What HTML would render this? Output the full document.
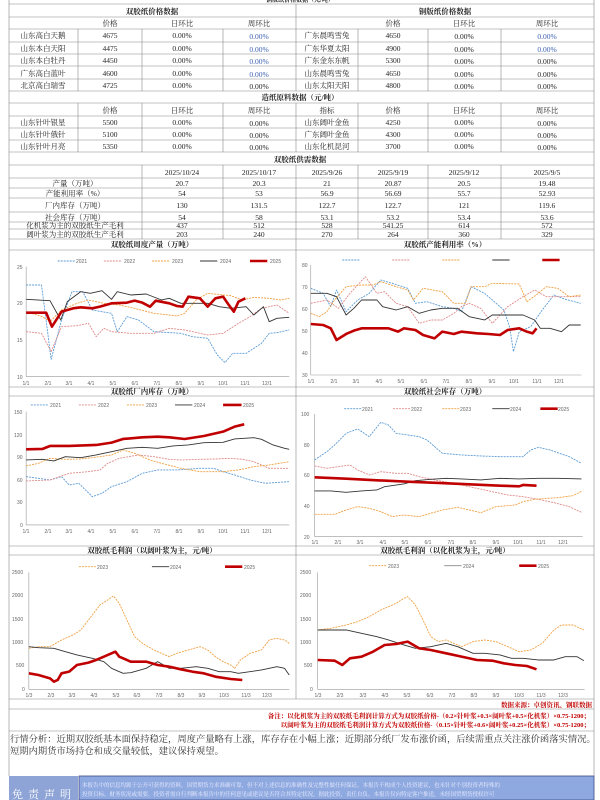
<!DOCTYPE html>
<html><head><meta charset="utf-8"><style>
html,body{margin:0;padding:0;background:#fff;}
svg{display:block;font-family:"Liberation Serif","Noto Serif CJK SC",serif;}
.t{font-size:7.5px;fill:#222;text-anchor:middle;}
.b{fill:#3a5fb0;}
.ax{font-size:5px;fill:#666;font-family:"Liberation Sans",sans-serif;}
.ct{font-size:7.5px;fill:#222;text-anchor:middle;font-weight:bold;}
.s{fill:none;vector-effect:non-scaling-stroke;stroke-linejoin:round;}
.y1{stroke:#5b9bd5;stroke-width:0.9;stroke-dasharray:2 1;}
.y2{stroke:#e08a8a;stroke-width:0.9;stroke-dasharray:2 1;}
.y3{stroke:#f0a040;stroke-width:0.9;stroke-dasharray:2 1;}
.y4{stroke:#333;stroke-width:0.9;}
.y5{stroke:#c00000;stroke-width:2.6;}
.g{stroke:#999;stroke-width:0.6;vector-effect:non-scaling-stroke;}
.l{stroke:#888;stroke-width:0.6;}
</style></head><body>
<svg width="600" height="800" viewBox="0 0 600 800" xmlns="http://www.w3.org/2000/svg">
<g class="l">
<line x1="9" y1="0" x2="9" y2="776"/><line x1="594" y1="0" x2="594" y2="776"/>
<line x1="9" y1="4" x2="594" y2="4"/><line x1="9" y1="17" x2="594" y2="17"/>
<line x1="9" y1="29" x2="594" y2="29"/><line x1="9" y1="42" x2="594" y2="42"/>
<line x1="9" y1="54" x2="594" y2="54"/><line x1="9" y1="66" x2="594" y2="66"/>
<line x1="9" y1="79" x2="594" y2="79"/><line x1="9" y1="91" x2="594" y2="91"/>
<line x1="9" y1="103" x2="594" y2="103"/><line x1="9" y1="116" x2="594" y2="116"/>
<line x1="9" y1="128" x2="594" y2="128"/><line x1="9" y1="140" x2="594" y2="140"/>
<line x1="9" y1="152" x2="594" y2="152"/><line x1="9" y1="165" x2="594" y2="165"/>
<line x1="9" y1="178" x2="594" y2="178"/><line x1="9" y1="188" x2="594" y2="188"/>
<line x1="9" y1="198" x2="594" y2="198"/><line x1="9" y1="212" x2="594" y2="212"/>
<line x1="9" y1="222" x2="594" y2="222"/><line x1="9" y1="229" x2="594" y2="229"/>
<line x1="9" y1="239" x2="594" y2="239"/><line x1="9" y1="250" x2="594" y2="250"/>
<line x1="9" y1="387" x2="594" y2="387"/><line x1="9" y1="396" x2="594" y2="396"/>
<line x1="9" y1="546" x2="594" y2="546"/><line x1="9" y1="555" x2="594" y2="555"/>
<line x1="9" y1="699" x2="594" y2="699"/><line x1="9" y1="709" x2="594" y2="709"/>
<line x1="9" y1="731" x2="594" y2="731"/>
<line x1="296" y1="4" x2="296" y2="91"/>
<line x1="78" y1="29" x2="78" y2="91"/><line x1="142" y1="29" x2="142" y2="91"/><line x1="223" y1="29" x2="223" y2="91"/>
<line x1="358" y1="29" x2="358" y2="91"/><line x1="428" y1="29" x2="428" y2="91"/><line x1="501" y1="29" x2="501" y2="91"/>
<line x1="78" y1="103" x2="78" y2="152"/><line x1="142" y1="103" x2="142" y2="152"/><line x1="223" y1="103" x2="223" y2="152"/><line x1="296" y1="103" x2="296" y2="152"/>
<line x1="358" y1="103" x2="358" y2="152"/><line x1="428" y1="103" x2="428" y2="152"/><line x1="501" y1="103" x2="501" y2="152"/>
<line x1="142" y1="165" x2="142" y2="239"/><line x1="223" y1="165" x2="223" y2="239"/><line x1="296" y1="165" x2="296" y2="699"/>
<line x1="358" y1="165" x2="358" y2="239"/><line x1="428" y1="165" x2="428" y2="239"/><line x1="501" y1="165" x2="501" y2="239"/>
</g>
<text class="ct" x="300" y="2" style="font-size:6px">铜版纸价格数据（元/吨）</text>
<text class="ct" x="152" y="14">双胶纸价格数据</text><text class="ct" x="445" y="14">铜版纸价格数据</text>
<g class="t">
<text x="110" y="26">价格</text><text x="182" y="26">日环比</text><text x="259" y="26">周环比</text>
<text x="393" y="26">价格</text><text x="464" y="26">日环比</text><text x="547" y="26">周环比</text>
<text x="43" y="38">山东高白天鹅</text><text x="110" y="38">4675</text><text x="182" y="38">0.00%</text><text class="t b" x="259" y="39">0.00%</text>
<text x="327" y="38">广东晨鸣雪兔</text><text x="393" y="38">4650</text><text x="464" y="39">0.00%</text><text class="t b" x="547" y="39">0.00%</text>
<text x="43" y="51">山东本白天阳</text><text x="110" y="51">4475</text><text x="182" y="51">0.00%</text><text class="t b" x="259" y="52">0.00%</text>
<text x="327" y="51">广东华夏太阳</text><text x="393" y="51">4900</text><text x="464" y="52">0.00%</text><text class="t b" x="547" y="52">0.00%</text>
<text x="43" y="63">山东本白牡丹</text><text x="110" y="63">4450</text><text x="182" y="63">0.00%</text><text class="t b" x="259" y="64">0.00%</text>
<text x="327" y="63">广东金东东帆</text><text x="393" y="63">5300</text><text x="464" y="64">0.00%</text><text x="547" y="64">0.00%</text>
<text x="43" y="76">广东高白蓝叶</text><text x="110" y="76">4600</text><text x="182" y="76">0.00%</text><text class="t b" x="259" y="77">0.00%</text>
<text x="327" y="76">山东晨鸣雪兔</text><text x="393" y="76">4650</text><text x="464" y="77">0.00%</text><text x="547" y="77">0.00%</text>
<text x="43" y="88">北京高白瑞雪</text><text x="110" y="88">4725</text><text x="182" y="88">0.00%</text><text x="259" y="89">0.00%</text>
<text x="327" y="88">山东太阳天阳</text><text x="393" y="88">4800</text><text x="464" y="89">0.00%</text><text x="547" y="89">0.00%</text>
<text class="ct" x="300" y="100">造纸原料数据（元/吨）</text>
<text x="110" y="113">价格</text><text x="182" y="113">日环比</text><text x="259" y="113">周环比</text>
<text x="327" y="113">指标</text><text x="393" y="113">价格</text><text x="464" y="113">日环比</text><text x="547" y="113">周环比</text>
<text x="43" y="125">山东针叶银星</text><text x="110" y="125">5500</text><text x="182" y="125">0.00%</text><text x="259" y="126">0.00%</text>
<text x="327" y="125">山东阔叶金鱼</text><text x="393" y="125">4250</text><text x="464" y="125">0.00%</text><text x="547" y="126">0.00%</text>
<text x="43" y="137">山东针叶俄针</text><text x="110" y="137">5100</text><text x="182" y="137">0.00%</text><text x="259" y="138">0.00%</text>
<text x="327" y="137">广东阔叶金鱼</text><text x="393" y="137">4300</text><text x="464" y="137">0.00%</text><text x="547" y="138">0.00%</text>
<text x="43" y="149">山东针叶月亮</text><text x="110" y="149">5350</text><text x="182" y="149">0.00%</text><text x="259" y="150">0.00%</text>
<text x="327" y="149">山东化机昆河</text><text x="393" y="149">3700</text><text x="464" y="149">0.00%</text><text x="547" y="150">0.00%</text>
<text class="ct" x="300" y="162">双胶纸供需数据</text>
<text x="182" y="175">2025/10/24</text><text x="259" y="175">2025/10/17</text><text x="327" y="175">2025/9/26</text><text x="393" y="175">2025/9/19</text><text x="464" y="175">2025/9/12</text><text x="547" y="175">2025/9/5</text>
<text x="75" y="186">产量（万吨）</text><text x="182" y="186">20.7</text><text x="259" y="186">20.3</text><text x="327" y="186">21</text><text x="393" y="186">20.87</text><text x="464" y="186">20.5</text><text x="547" y="186">19.48</text>
<text x="75" y="196">产能利用率（%）</text><text x="182" y="196">54</text><text x="259" y="196">53</text><text x="327" y="196">56.9</text><text x="393" y="196">56.69</text><text x="464" y="196">55.7</text><text x="547" y="196">52.93</text>
<text x="75" y="208">厂内库存（万吨）</text><text x="182" y="208">130</text><text x="259" y="208">131.5</text><text x="327" y="208">122.7</text><text x="393" y="208">122.7</text><text x="464" y="208">121</text><text x="547" y="208">119.6</text>
<text x="75" y="220">社会库存（万吨）</text><text x="182" y="220">54</text><text x="259" y="220">58</text><text x="327" y="220">53.1</text><text x="393" y="220">53.2</text><text x="464" y="220">53.4</text><text x="547" y="220">53.6</text>
<text x="75" y="228">化机浆为主的双胶纸生产毛利</text><text x="182" y="228">437</text><text x="259" y="228">512</text><text x="327" y="228">528</text><text x="393" y="228">541.25</text><text x="464" y="228">614</text><text x="547" y="228">572</text>
<text x="75" y="237">阔叶浆为主的双胶纸生产毛利</text><text x="182" y="237">203</text><text x="259" y="237">240</text><text x="327" y="237">270</text><text x="393" y="237">264</text><text x="464" y="237">360</text><text x="547" y="237">329</text>
</g>
<text class="ct" x="152" y="247">双胶纸周度产量（万吨）</text><text class="ct" x="445" y="247">双胶纸产能利用率（%）</text>
<text class="ct" x="152" y="394">双胶纸厂内库存（万吨）</text><text class="ct" x="445" y="394">双胶纸社会库存（万吨）</text>
<text class="ct" x="152" y="553">双胶纸毛利润（以阔叶浆为主，元/吨）</text><text class="ct" x="445" y="553">双胶纸毛利润（以化机浆为主，元/吨）</text>

<g transform="translate(0,260) scale(0.3846,0.3333)">
<line class="g" x1="68" y1="20" x2="68" y2="350"/><line class="g" x1="68" y1="350" x2="752" y2="350"/>
<line class="g" x1="808" y1="15" x2="808" y2="345"/><line class="g" x1="808" y1="345" x2="1512" y2="345"/>
<line class="g" x1="68" y1="455" x2="68" y2="795"/><line class="g" x1="68" y1="795" x2="752" y2="795"/>
<line class="g" x1="818" y1="462" x2="818" y2="830"/><line class="g" x1="818" y1="830" x2="1515" y2="830"/>
<line class="s y1" x1="150" y1="3" x2="195" y2="3"/><line class="s y2" x1="270" y1="3" x2="315" y2="3"/><line class="s y3" x1="395" y1="3" x2="440" y2="3"/><line class="s y4" x1="520" y1="3" x2="565" y2="3"/><line class="s y5" x1="650" y1="3" x2="695" y2="3"/>
<line class="s y1" x1="890" y1="0" x2="935" y2="0"/><line class="s y2" x1="1020" y1="0" x2="1065" y2="0"/><line class="s y3" x1="1150" y1="0" x2="1195" y2="0"/><line class="s y4" x1="1280" y1="0" x2="1325" y2="0"/><line class="s y5" x1="1410" y1="0" x2="1455" y2="0"/>
<line class="s y1" x1="80" y1="435" x2="125" y2="435"/><line class="s y2" x1="205" y1="435" x2="250" y2="435"/><line class="s y3" x1="330" y1="435" x2="375" y2="435"/><line class="s y4" x1="455" y1="435" x2="500" y2="435"/><line class="s y5" x1="580" y1="435" x2="628" y2="435"/>
<line class="s y1" x1="895" y1="446" x2="940" y2="446"/><line class="s y2" x1="1022" y1="446" x2="1068" y2="446"/><line class="s y3" x1="1150" y1="446" x2="1196" y2="446"/><line class="s y4" x1="1280" y1="446" x2="1325" y2="446"/><line class="s y5" x1="1405" y1="446" x2="1450" y2="446"/>
<polyline class="s y1" points="68,75 108,75 133,298 160,180 187,95 215,95 240,150 290,160 305,215 330,170 360,180 400,215 470,220 500,230 540,235 565,285 585,308 605,280 640,280 680,250 700,220 720,218 752,210"/>
<polyline class="s y2" points="68,215 108,220 133,275 160,200 200,197 230,190 250,230 270,205 290,215 340,220 400,220 440,205 480,210 540,225 580,220 620,190 650,170 680,145 720,135 752,160"/>
<polyline class="s y3" points="68,155 110,170 130,185 160,150 200,130 230,120 270,130 310,135 350,145 400,160 440,165 460,168 480,160 510,120 540,100 600,107 630,120 660,112 700,115 730,120 752,115"/>
<polyline class="s y4" points="68,118 130,122 158,180 175,125 210,95 235,100 265,92 290,118 305,95 340,105 380,102 420,120 440,115 470,130 510,130 540,130 570,140 600,145 640,140 660,165 685,140 700,185 720,175 752,172"/>
<polyline class="s y5" points="68,158 120,158 135,200 160,155 190,145 210,142 240,145 260,140 290,130 330,128 350,122 370,128 390,140 405,122 440,130 460,138 475,140 490,110 520,115 540,140 560,115 580,110 595,135 608,155 620,125 638,115"/>
<polyline class="s y1" points="808,85 840,100 860,140 875,90 900,155 930,120 960,100 990,60 1020,70 1060,85 1080,130 1110,125 1150,140 1180,145 1200,155 1225,80 1260,100 1290,130 1310,150 1325,200 1335,275 1350,215 1380,200 1410,150 1440,105 1470,118 1510,130"/>
<polyline class="s y2" points="808,130 850,120 880,145 910,100 950,50 980,100 1000,95 1030,130 1060,140 1090,190 1120,180 1150,180 1180,160 1200,140 1220,130 1250,145 1280,190 1320,140 1360,110 1390,90 1420,110 1460,110 1510,110"/>
<polyline class="s y3" points="808,160 830,170 850,155 870,120 900,80 940,75 970,75 990,65 1030,80 1060,90 1075,120 1100,85 1150,95 1180,130 1210,130 1225,80 1260,80 1280,70 1350,72 1370,125 1400,100 1420,80 1450,85 1480,110 1510,105"/>
<polyline class="s y4" points="808,100 850,100 875,110 900,165 920,145 940,120 980,120 995,140 1030,150 1060,140 1090,160 1120,150 1150,145 1190,145 1220,170 1260,180 1280,165 1320,165 1360,165 1390,180 1405,205 1430,205 1460,215 1480,195 1510,195"/>
<polyline class="s y5" points="808,192 840,195 860,205 875,240 900,222 920,212 940,205 980,205 1010,205 1035,215 1050,205 1080,210 1100,225 1130,235 1150,215 1180,222 1200,215 1240,220 1270,222 1300,225 1320,210 1350,205 1370,215 1385,220 1395,205"/>
<polyline class="s y1" points="68,650 100,655 130,660 160,650 180,675 205,670 240,710 265,700 290,680 330,665 370,640 410,630 460,630 520,625 555,625 580,635 610,645 650,660 690,670 752,665"/>
<polyline class="s y2" points="68,663 130,660 180,640 230,635 260,630 280,610 310,595 360,585 400,590 440,598 470,600 520,598 560,597 600,595 630,598 660,605 700,625 752,625"/>
<polyline class="s y3" points="68,618 100,610 130,595 170,598 210,597 260,590 290,585 320,570 350,580 390,600 420,610 470,625 520,635 580,635 620,630 660,620 700,615 752,605"/>
<polyline class="s y4" points="68,600 110,598 140,603 170,590 210,593 250,585 290,575 330,565 370,562 410,565 450,558 490,555 530,548 580,547 610,537 660,533 680,538 710,555 740,565 752,568"/>
<polyline class="s y5" points="68,568 110,567 130,558 180,558 250,555 290,548 320,537 370,532 410,530 440,532 480,537 530,528 580,515 610,500 635,493"/>
<polyline class="s y1" points="818,600 850,575 870,555 900,520 930,507 960,530 990,487 1010,495 1030,520 1060,525 1090,530 1110,540 1150,580 1200,585 1250,588 1300,590 1360,590 1380,570 1400,562 1430,570 1480,590 1512,610"/>
<polyline class="s y2" points="818,618 850,625 880,620 910,615 930,630 960,645 990,635 1030,640 1060,640 1090,650 1130,660 1180,670 1220,680 1280,695 1320,705 1360,710 1400,718 1440,728 1480,740 1512,757"/>
<polyline class="s y3" points="818,763 870,763 900,750 930,740 960,745 990,755 1020,770 1050,765 1090,770 1120,760 1150,750 1190,742 1220,750 1250,758 1290,740 1340,735 1360,725 1390,718 1450,713 1490,707 1512,694"/>
<polyline class="s y4" points="818,693 860,693 900,697 940,693 980,690 1000,680 1050,672 1080,662 1120,658 1160,655 1200,657 1250,660 1300,655 1350,657 1400,655 1450,655 1512,657"/>
<polyline class="s y5" points="818,652 900,656 980,661 1060,665 1140,669 1220,673 1300,677 1350,679 1360,675 1395,677"/>
</g>
<g transform="translate(0,540) scale(0.3846,0.3333)">
<line class="g" x1="75" y1="97" x2="75" y2="448"/><line class="g" x1="75" y1="448" x2="752" y2="448"/>
<line class="g" x1="826" y1="97" x2="826" y2="448"/><line class="g" x1="826" y1="448" x2="1520" y2="448"/>
<line class="s y3" x1="205" y1="80" x2="250" y2="80"/><line class="s y4" x1="395" y1="80" x2="440" y2="80"/><line class="s y5" x1="585" y1="80" x2="630" y2="80"/>
<line class="s y3" x1="960" y1="77" x2="1005" y2="77"/><line class="s y4" x1="1155" y1="77" x2="1200" y2="77" style="stroke:#888"/><line class="s y5" x1="1350" y1="77" x2="1395" y2="77"/>
<polyline class="s y3" points="75,325 100,320 130,320 160,300 190,285 210,270 230,240 250,210 260,195 280,180 295,168 310,190 330,240 350,290 370,310 400,330 420,340 440,350 460,340 490,330 520,320 540,330 560,350 580,365 600,375 610,385 625,360 650,340 680,330 700,300 720,295 740,300 752,310"/>
<polyline class="s y4" points="75,320 100,323 140,325 170,335 200,345 240,355 270,365 290,385 320,400 340,398 380,385 410,365 440,385 470,385 510,380 540,385 570,395 600,395 620,400 680,390 720,380 740,385 752,405"/>
<polyline class="s y5" points="75,400 100,405 130,415 140,425 150,420 160,400 180,395 200,375 230,368 250,360 270,350 290,340 300,335 310,350 340,365 380,365 410,375 440,380 470,388 500,395 530,400 560,410 600,417 630,420"/>
<polyline class="s y3" points="826,270 860,265 900,255 930,245 960,230 990,210 1010,200 1030,190 1050,175 1060,170 1080,195 1100,240 1120,290 1140,305 1160,300 1180,310 1200,320 1230,305 1260,300 1290,305 1320,320 1350,335 1380,330 1410,310 1440,270 1460,255 1490,255 1518,270"/>
<polyline class="s y4" points="826,270 870,270 900,270 940,280 980,290 1010,300 1050,315 1080,325 1120,320 1160,310 1190,320 1230,340 1260,340 1300,345 1330,355 1360,355 1400,360 1440,360 1470,350 1500,350 1518,362"/>
<polyline class="s y5" points="826,360 870,362 890,375 910,355 940,350 970,335 1000,315 1030,312 1060,305 1090,325 1120,330 1160,340 1200,350 1240,360 1280,362 1310,370 1340,375 1370,378 1395,388"/>
</g>
<g class="ax">
<text x="76" y="263">2021</text><text x="124" y="263">2022</text><text x="172" y="263">2023</text><text x="220" y="263">2024</text><text x="270" y="263">2025</text>
<text x="17" y="269">25</text><text x="17" y="305">20</text><text x="17" y="342">15</text><text x="17" y="379">10</text>
<text x="302" y="267">80</text><text x="302" y="289">70</text><text x="302" y="311">60</text><text x="302" y="333">50</text><text x="302" y="355">40</text><text x="302" y="377">30</text>
<text x="14" y="414">150</text><text x="14" y="437">120</text><text x="17" y="459">90</text><text x="17" y="482">60</text><text x="17" y="504">30</text><text x="20" y="527">0</text>
<text x="50" y="407">2021</text><text x="98" y="407">2022</text><text x="146" y="407">2023</text><text x="194" y="407">2024</text><text x="243" y="407">2025</text>
<text x="362" y="411">2021</text><text x="411" y="411">2022</text><text x="460" y="411">2023</text><text x="510" y="411">2024</text><text x="558" y="411">2025</text>
<text x="301" y="416">100</text><text x="304" y="447">80</text><text x="304" y="477">60</text><text x="304" y="508">40</text><text x="304" y="539">20</text>
<text x="97" y="569">2023</text><text x="170" y="569">2024</text><text x="244" y="569">2025</text>
<text x="388" y="568">2023</text><text x="463" y="568">2024</text><text x="538" y="568">2025</text>
<text x="12" y="574">2500</text><text x="12" y="597">2000</text><text x="12" y="621">1500</text><text x="12" y="644">1000</text><text x="16" y="667">500</text><text x="22" y="691">0</text>
<text x="300" y="574">2500</text><text x="300" y="597">2000</text><text x="300" y="621">1500</text><text x="300" y="644">1000</text><text x="304" y="667">500</text><text x="310" y="691">0</text>
</g>
<g class="ax" text-anchor="middle">
<text x="26" y="385">1/1</text><text x="48" y="385">2/1</text><text x="69" y="385">3/1</text><text x="91" y="385">4/1</text><text x="113" y="385">5/1</text><text x="135" y="385">6/1</text><text x="157" y="385">7/1</text><text x="179" y="385">8/1</text><text x="201" y="385">9/1</text><text x="223" y="385">10/1</text><text x="245" y="385">11/1</text><text x="267" y="385">12/1</text>
<text x="311" y="383">1/1</text><text x="334" y="383">2/1</text><text x="356" y="383">3/1</text><text x="379" y="383">4/1</text><text x="401" y="383">5/1</text><text x="424" y="383">6/1</text><text x="446" y="383">7/1</text><text x="469" y="383">8/1</text><text x="492" y="383">9/1</text><text x="514" y="383">10/1</text><text x="537" y="383">11/1</text><text x="559" y="383">12/1</text>
<text x="26" y="533">1/1</text><text x="48" y="533">2/1</text><text x="69" y="533">3/1</text><text x="91" y="533">4/1</text><text x="113" y="533">5/1</text><text x="135" y="533">6/1</text><text x="157" y="533">7/1</text><text x="179" y="533">8/1</text><text x="201" y="533">9/1</text><text x="223" y="533">10/1</text><text x="245" y="533">11/1</text><text x="267" y="533">12/1</text>
<text x="315" y="544">1/1</text><text x="338" y="544">2/1</text><text x="360" y="544">3/1</text><text x="383" y="544">4/1</text><text x="405" y="544">5/1</text><text x="428" y="544">6/1</text><text x="451" y="544">7/1</text><text x="473" y="544">8/1</text><text x="496" y="544">9/1</text><text x="518" y="544">10/1</text><text x="541" y="544">11/1</text><text x="563" y="544">12/1</text>
<text x="29" y="697">1/3</text><text x="51" y="697">2/3</text><text x="72" y="697">3/3</text><text x="94" y="697">4/3</text><text x="116" y="697">5/3</text><text x="137" y="697">6/3</text><text x="159" y="697">7/3</text><text x="181" y="697">8/3</text><text x="202" y="697">9/3</text><text x="224" y="697">10/3</text><text x="246" y="697">11/3</text><text x="267" y="697">12/3</text>
<text x="318" y="697">1/3</text><text x="340" y="697">2/3</text><text x="363" y="697">3/3</text><text x="385" y="697">4/3</text><text x="407" y="697">5/3</text><text x="430" y="697">6/3</text><text x="452" y="697">7/3</text><text x="474" y="697">8/3</text><text x="496" y="697">9/3</text><text x="519" y="697">10/3</text><text x="541" y="697">11/3</text><text x="563" y="697">12/3</text>
</g>
<g style="font-size:6.5px;fill:#c00000;font-weight:bold" text-anchor="end">
<text x="592" y="707">数据来源：卓创资讯、钢联数据</text>
<text x="590" y="718">备注：以化机浆为主的双胶纸毛利润计算方式为双胶纸价格-（0.2×针叶浆+0.3×阔叶浆+0.5×化机浆）×0.75-1200；</text>
<text x="590" y="727">以阔叶浆为主的双胶纸毛利润计算方式为双胶纸价格-（0.15×针叶浆+0.6×阔叶浆+0.25×化机浆）×0.75-1200；</text>
</g>
<g style="font-size:9.3px;fill:#333">
<text x="10" y="742">行情分析：近期双胶纸基本面保持稳定，周度产量略有上涨，库存存在小幅上涨；近期部分纸厂发布涨价函，后续需重点关注涨价函落实情况。</text>
<text x="10" y="754">短期内期货市场持仓和成交量较低，建议保持观望。</text>
</g>
<rect x="9" y="776" width="69" height="24" fill="#8ea3d6"/>
<rect x="79" y="776" width="515" height="24" fill="#8ea9e0" stroke="#3a4a8a" stroke-width="0.8"/>
<text x="44" y="798" style="font-size:11px;fill:#fff;letter-spacing:5px" text-anchor="middle">免责声明</text>
<g style="font-size:5.5px;fill:#eef">
<text x="82" y="787">本报告中的信息均源于公开可获得的资料，国贸期货力求准确可靠，但不对上述信息的准确性及完整性做任何保证。本报告不构成个人投资建议，也未针对个别投资者特殊的</text>
<text x="82" y="796">投资目标、财务状况或需要，投资者需自行判断本报告中的任何意见或建议是否符合其特定状况，据此投资，责任自负。本报告仅向特定客户推送，未经国贸期货授权许可</text>
</g>
</svg>
</body></html>
